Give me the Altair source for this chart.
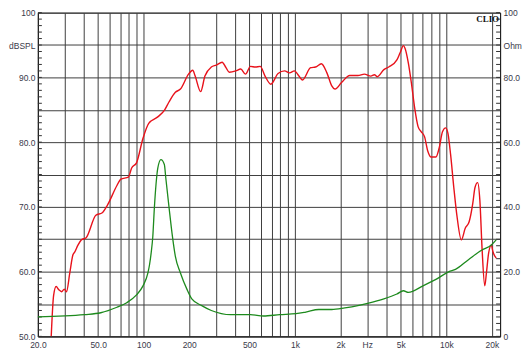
import altair as alt
import pandas as pd

# SPL response (Hz, dBSPL)
spl_freq = [24.5, 25.4, 26.4, 27.5, 28.7, 29.9, 30.9, 32.5, 34.1, 35.0, 36.8, 38.7, 41.7,
            48.3, 53.3, 57.4, 66.6, 70.7, 79.3, 83.3, 89.7, 99.0, 108, 124, 137, 147,
            162, 175, 198, 211, 219, 238, 254, 280, 302, 330, 350, 368, 406, 438, 471,
            508, 547, 589, 634, 693, 773, 854, 920, 991, 1041, 1121, 1270, 1367, 1494,
            1625, 1750, 1840, 2030, 2300, 2602, 2874, 3170, 3350, 3502, 3868, 4166,
            4714, 4950, 5206, 5332, 5608, 5888, 6184, 6506, 6832, 7176, 7548, 7928,
            8538, 8968, 9432, 9906, 10252, 10670, 11206, 11786, 12566, 13334, 14150,
            14948, 15468, 16102, 16660, 17240, 17946, 18406, 19046, 19822, 20300, 21360]
spl_db = [50.0, 56.3, 57.7, 57.2, 56.9, 57.3, 56.9, 59.8, 62.6, 63.0, 64.1, 64.9, 65.25,
          68.7, 69.1, 70.2, 73.3, 74.3, 74.6, 76.0, 76.8, 80.6, 82.9, 83.9, 84.9, 86.2,
          87.7, 88.2, 90.5, 91.1, 90.2, 87.8, 90.2, 91.6, 91.9, 92.35, 91.5, 90.8, 91.0,
          91.3, 90.5, 91.7, 91.6, 91.7, 90.2, 88.95, 90.6, 91.0, 90.7, 91.0, 90.5, 89.6,
          91.5, 91.6, 92.1, 90.7, 88.7, 88.2, 89.2, 90.3, 90.3, 90.5, 90.2, 90.4, 90.1,
          91.2, 91.6, 92.7, 93.8, 94.9, 94.5, 92.25, 89.0, 85.2, 82.4, 81.6, 80.85, 78.6,
          77.7, 77.7, 79.1, 81.6, 82.2, 81.35, 78.1, 73.0, 68.4, 64.9, 66.7, 67.7, 70.5,
          73.0, 73.75, 71.0, 63.4, 57.8, 59.8, 62.9, 64.1, 63.1, 62.1]

# Impedance (Hz, Ohm)
imp_freq = [20, 40.6, 52.1, 66.6, 77.3, 89.7, 99.0, 106.7, 109.4, 112.1, 114.9, 117.8,
            120.7, 124, 130, 137, 140, 147, 155, 162, 175, 193, 208, 242, 280, 377, 508,
            619, 793, 1016, 1179, 1436, 1750, 2136, 2602, 3018, 3868, 4714, 5206, 5608,
            7008, 8538, 10406, 11496, 14002, 17086, 19822, 21360]
imp_ohm = [6.0, 6.7, 7.3, 9.0, 10.4, 12.8, 15.6, 19.6, 22.2, 25.8, 30.8, 40.0, 47.0, 52.0,
           54.6, 53.1, 49.0, 40.0, 30.8, 24.7, 19.6, 14.6, 11.6, 9.5, 8.0, 6.7, 6.7, 6.3,
           6.7, 7.0, 7.5, 8.3, 8.3, 8.8, 9.5, 10.2, 11.6, 13.1, 14.1, 13.6, 15.6, 17.6,
           20.0, 20.7, 23.7, 26.6, 28.2, 29.8]

x_grid = [20, 30, 40, 50, 60, 70, 80, 90, 100, 200, 300, 400, 500, 600, 700, 800, 900,
          1000, 2000, 3000, 4000, 5000, 6000, 7000, 8000, 9000, 10000, 20000]
x_label_vals = [20, 50, 100, 200, 500, 1000, 2000, 3000, 5000, 10000, 20000]
x_label_txt = ["20.0", "50.0", "100", "200", "500", "1k", "2k", "Hz", "5k", "10k", "20k"]
left_vals = [50, 55, 60, 65, 70, 75, 80, 85, 90, 95, 100]
left_label_vals = [100, 95, 90, 80, 70, 60, 50]
left_label_txt = ["100", "dBSPL", "90.0", "80.0", "70.0", "60.0", "50.0"]
right_label_vals = [100, 90, 80, 60, 40, 20, 0]
right_label_txt = ["100", "Ohm", "80.0", "60.0", "40.0", "20.0", "0"]
minor_db = list(range(50, 101))

W, H = 464, 325
X_DOMAIN = [20, 22660]


def label_expr(vals, txts):
    expr = "''"
    for v, t in reversed(list(zip(vals, txts))):
        expr = f"round(datum.value) == {v} ? '{t}' : ({expr})"
    return expr


spl_df = pd.DataFrame({"freq": spl_freq, "db": spl_db})
imp_df = pd.DataFrame({"freq": imp_freq, "ohm": imp_ohm})
minor_df = pd.DataFrame({"db": minor_db})
clio_df = pd.DataFrame({"t": ["CLIO"]})

x_scale = alt.Scale(type="log", domain=X_DOMAIN, nice=False)
x_axis = alt.Axis(values=x_grid, labelExpr=label_expr(x_label_vals, x_label_txt),
                  grid=True, ticks=False, title=None, labelFlush=False,
                  labelPadding=4, labelOverlap=False)
spl_scale = alt.Scale(domain=[50, 100], nice=False, zero=False)
left_axis = alt.Axis(values=left_vals, labelExpr=label_expr(left_label_vals, left_label_txt),
                     grid=True, ticks=False, title=None, labelPadding=3,
                     labelOverlap=False, orient="left")
imp_scale = alt.Scale(domain=[0, 100], nice=False, zero=False)
right_axis = alt.Axis(values=right_label_vals,
                      labelExpr=label_expr(right_label_vals, right_label_txt),
                      grid=False, ticks=False, title=None, labelPadding=3,
                      labelOverlap=False, orient="right")

minor_left = alt.Chart(minor_df).mark_rule(color="#333333", strokeWidth=1).encode(
    y=alt.Y("db:Q", scale=spl_scale, axis=left_axis),
    x=alt.value(0), x2=alt.value(4))
minor_right = alt.Chart(minor_df).mark_rule(color="#333333", strokeWidth=1).encode(
    y=alt.Y("db:Q", scale=spl_scale, axis=left_axis),
    x=alt.value(W - 4), x2=alt.value(W))

spl_line = alt.Chart(spl_df).mark_line(color="#e8121b", strokeWidth=1.4,
                                       interpolate="monotone", clip=True).encode(
    x=alt.X("freq:Q", scale=x_scale, axis=x_axis),
    y=alt.Y("db:Q", scale=spl_scale, axis=left_axis))

clio = alt.Chart(clio_df).mark_text(font="Liberation Serif", fontWeight="bold",
                                    fontSize=9, align="right", baseline="top",
                                    color="#111111").encode(
    text="t:N", x=alt.value(W - 1), y=alt.value(2))

spl_layer = alt.layer(minor_left, minor_right, spl_line, clio)

imp_line = alt.Chart(imp_df).mark_line(color="#1d8a1d", strokeWidth=1.3,
                                       interpolate="monotone", clip=True).encode(
    x=alt.X("freq:Q", scale=x_scale, axis=x_axis),
    y=alt.Y("ohm:Q", scale=imp_scale, axis=right_axis))

chart = alt.layer(spl_layer, imp_line).resolve_scale(y="independent").properties(
    width=W, height=H, background="white",
    padding={"left": 0, "top": 0, "right": 0, "bottom": 0}
).configure_view(stroke="#222222", strokeWidth=1).configure_axis(
    labelFont="Liberation Sans", labelFontSize=8.5, labelColor="#3a3a4a",
    gridColor="#3f3f3f", gridWidth=1, gridOpacity=1,
    domainColor="#222222", domainWidth=1)

chart.save("out.html", embed_options={"renderer": "svg", "actions": False})
